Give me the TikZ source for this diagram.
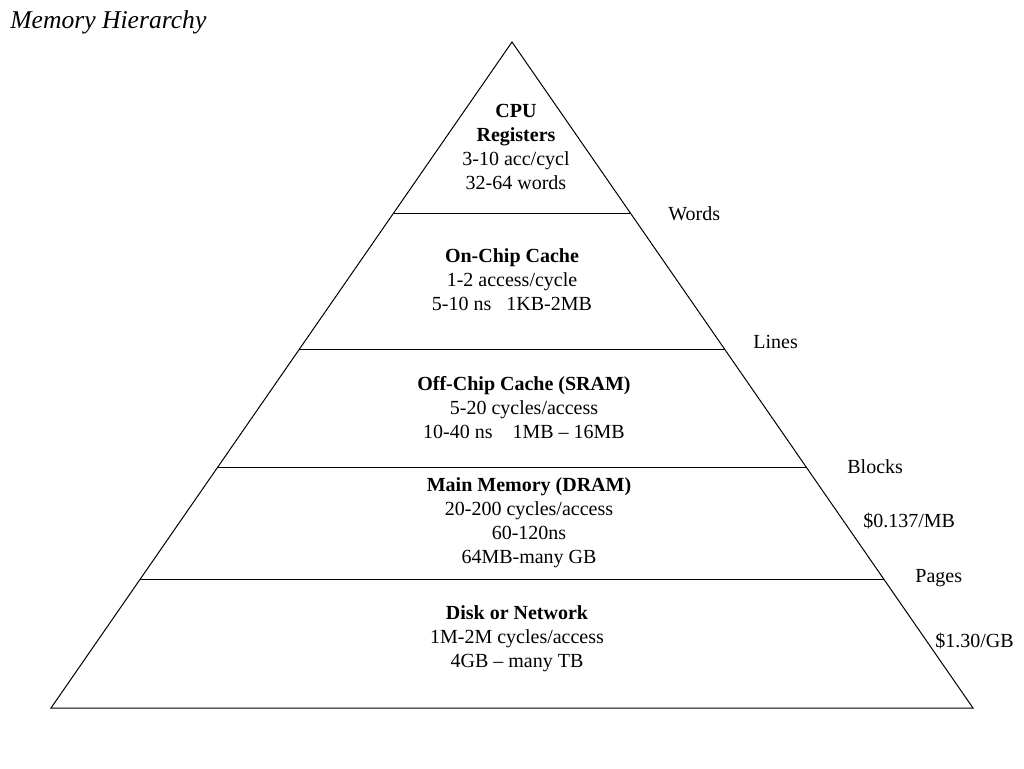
\documentclass[tikz,border=0pt]{standalone}
\usepackage{fontspec}
\setmainfont{Liberation Serif}
\usetikzlibrary{calc}
\begin{document}
\begin{tikzpicture}[x=0.5pt,y=-0.5pt,
  lvl/.style={align=center,font=\fontsize{10}{12}\selectfont,inner sep=0pt},
  side/.style={anchor=west,font=\fontsize{10}{12}\selectfont,inner sep=0pt},
  edge/.style={line width=0.5pt,black}]
\useasboundingbox (0,0) rectangle (1024,768);
\coordinate (apex) at (512,42);
\coordinate (bl) at (51,708);
\coordinate (br) at (973,708);
\draw[edge] (apex) -- (bl) -- (br) -- cycle;
\foreach \t/\n in {0.2568/a,0.4610/b,0.6396/c,0.8063/d}{
  \coordinate (l\n) at ($(apex)!\t!(bl)$);
  \coordinate (r\n) at ($(apex)!\t!(br)$);
  \draw[edge] (l\n) -- (r\n);
}
\node[anchor=west,inner sep=0pt,font=\fontsize{12.8}{14}\selectfont\itshape] (title) at (10,22) {Memory Hierarchy};
\node[lvl] (cpu) at (516,147) {\textbf{CPU}\\\textbf{Registers}\\3-10 acc/cycl\\32-64 words};
\node[lvl] (onchip) at (512,280) {\textbf{On-Chip Cache}\\1-2 access/cycle\\5-10 ns\ \ \ 1KB-2MB};
\node[lvl] (offchip) at (524,408) {\textbf{Off-Chip Cache (SRAM)}\\5-20 cycles/access\\10-40 ns\ \ \ \ 1MB -- 16MB};
\node[lvl] (main) at (529,523) {\textbf{Main Memory (DRAM)}\\20-200 cycles/access\\60-120ns\\64MB-many GB};
\node[lvl] (disk) at (517,639) {\textbf{Disk or Network}\\1M-2M cycles/access\\4GB -- many TB};
\node[side] (words) at (668,214) {Words};
\node[side] (lines) at (753,342) {Lines};
\node[side] (blocks) at (847,467) {Blocks};
\node[side] (pmb) at (863,521) {\$0.137/MB};
\node[side] (pages) at (915,578) {Pages};
\node[side] (pgb) at (935,641) {\$1.30/GB};
\end{tikzpicture}
\end{document}
